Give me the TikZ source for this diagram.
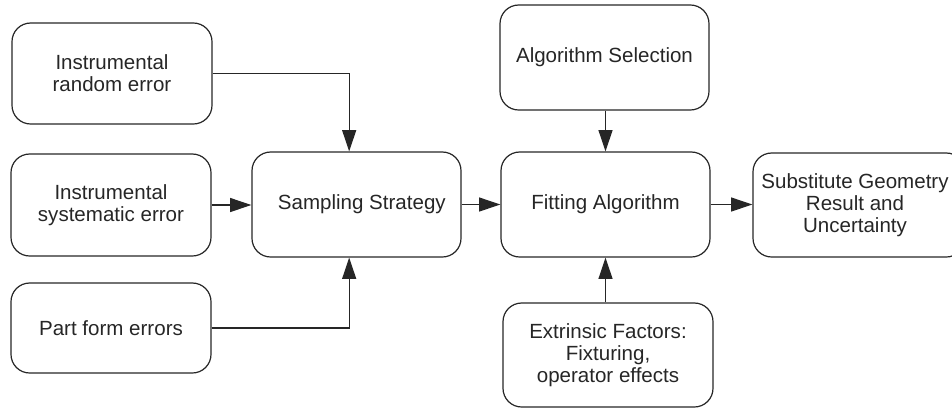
\documentclass[tikz,border=0pt]{standalone}
\usepackage{fontspec}
\setmainfont{Liberation Sans}
\usetikzlibrary{arrows.meta, positioning}

\begin{document}
\begin{tikzpicture}[x=0.75pt, y=-0.75pt, >={Triangle[length=16pt, width=10.5pt]},
    box/.style={draw=black!85, line width=0.9pt, rounded corners=14pt, align=center,
        inner sep=0pt, text=black!85, font=\fontsize{15.4pt}{16.5pt}\selectfont},
    flow/.style={->, line width=0.9pt, draw=black!85}]
    \useasboundingbox (0,0) rectangle (952,408);

    % error sources
    \node[box, minimum width=150pt, minimum height=75.75pt] (rand) at (112,73.5) {Instrumental\\random error};
    \node[box, minimum width=150pt, minimum height=76.5pt] (syst) at (111,205) {Instrumental\\systematic error};
    \node[box, minimum width=150pt, minimum height=67.5pt] (part) at (111,328) {Part form errors};

    % main chain
    \node[box, minimum width=156.75pt, minimum height=78.75pt] (samp) at (356.5,204.5) {\hspace{8pt}Sampling Strategy};
    \node[box, minimum width=156.75pt, minimum height=78.75pt] (sel) at (604.5,57.5) {Algorithm Selection};
    \node[box, minimum width=156.75pt, minimum height=78.75pt] (fit) at (605.5,204.5) {Fitting Algorithm};
    \node[box, minimum width=157.5pt, minimum height=78pt] (extr) at (608,355) {Extrinsic Factors:\\Fixturing,\\operator effects};
    \node[box, minimum width=159pt, minimum height=78pt] (subst) at (859,205) {\hspace{-6pt}Substitute Geometry\\\hspace{-6pt}Result and\\\hspace{-6pt}Uncertainty};

    % connectors
    \draw[flow] (rand.east) -| ([xshift=-5.5pt]samp.north);
    \draw[flow] (syst.east) -- (syst.east -| samp.west);
    \draw[flow] (part.east) -| ([xshift=-5.5pt]samp.south);
    \draw[flow] (samp.east) -- (fit.west);
    \draw[flow] (fit.north |- sel.south) -- (fit.north);
    \draw[flow] (fit.south |- extr.north) -- (fit.south);
    \draw[flow] (fit.east) -- (fit.east -| subst.west);
\end{tikzpicture}
\end{document}
